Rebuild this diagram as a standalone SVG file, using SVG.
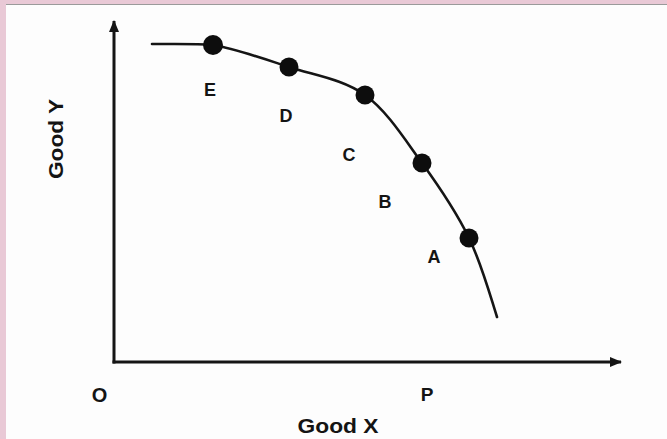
<svg xmlns="http://www.w3.org/2000/svg" width="667" height="439" viewBox="0 0 667 439">
<defs>
<style>
.lbl{font-family:"Liberation Sans",Arial,sans-serif;font-weight:bold;fill:#141414;text-anchor:middle}
.axis{stroke:#151515;stroke-width:3;fill:none}
.curve{stroke:#151515;stroke-width:2.6;fill:none;stroke-linecap:round}
.dot{fill:#0d0d0d}
</style>
<marker id="arr" viewBox="0 0 12 10" refX="11" refY="5" markerWidth="12" markerHeight="10" markerUnits="userSpaceOnUse" orient="auto">
<path d="M0,0 L12,5 L0,10 Z" fill="#151515"/>
</marker>
</defs>
<rect width="667" height="439" fill="#fdfdfd"/>
<rect x="0" y="0" width="667" height="4" fill="#e9c9d6"/>
<rect x="0" y="0" width="6" height="439" fill="#e9c9d6"/>
<line x1="6" y1="4.5" x2="667" y2="4.5" stroke="#9a9a9a" stroke-width="1"/>
<g id="connectors">
<line class="axis" x1="114" y1="363.5" x2="114" y2="21" marker-end="url(#arr)"/>
<line class="axis" x1="112.5" y1="362" x2="621" y2="362" marker-end="url(#arr)"/>
<path class="curve" d="M152,44 C172.3,44.2 195,43.5 213,45 C235.8,48.8 263.7,58.7 289,67 C314.3,75.3 342.8,79 365,95 C387.2,111 404.7,139.2 422,163 C439.3,186.8 456.5,212.3 469,238 C481.5,263.7 490,295 497,317"/>
</g>
<g id="E"><circle class="dot" cx="213" cy="45" r="10"/><text class="lbl" x="210" y="96" font-size="18">E</text></g>
<g id="D"><circle class="dot" cx="289" cy="67" r="9.5"/><text class="lbl" x="286" y="122" font-size="18">D</text></g>
<g id="C"><circle class="dot" cx="365" cy="95" r="9.5"/><text class="lbl" x="349" y="161" font-size="18">C</text></g>
<g id="B"><circle class="dot" cx="422" cy="163" r="9.5"/><text class="lbl" x="385" y="208" font-size="18">B</text></g>
<g id="A"><circle class="dot" cx="469" cy="238" r="9.5"/><text class="lbl" x="434" y="263" font-size="18">A</text></g>
<g id="O"><text class="lbl" x="99.5" y="402" font-size="20">O</text></g>
<g id="P"><text class="lbl" x="427" y="401" font-size="19">P</text></g>
<g id="goodX"><text class="lbl" x="338" y="433" font-size="20" textLength="81" lengthAdjust="spacingAndGlyphs">Good X</text></g>
<g id="goodY"><text class="lbl" transform="translate(63,139) rotate(-90)" x="0" y="0" font-size="20" textLength="80" lengthAdjust="spacingAndGlyphs">Good Y</text></g>
</svg>
